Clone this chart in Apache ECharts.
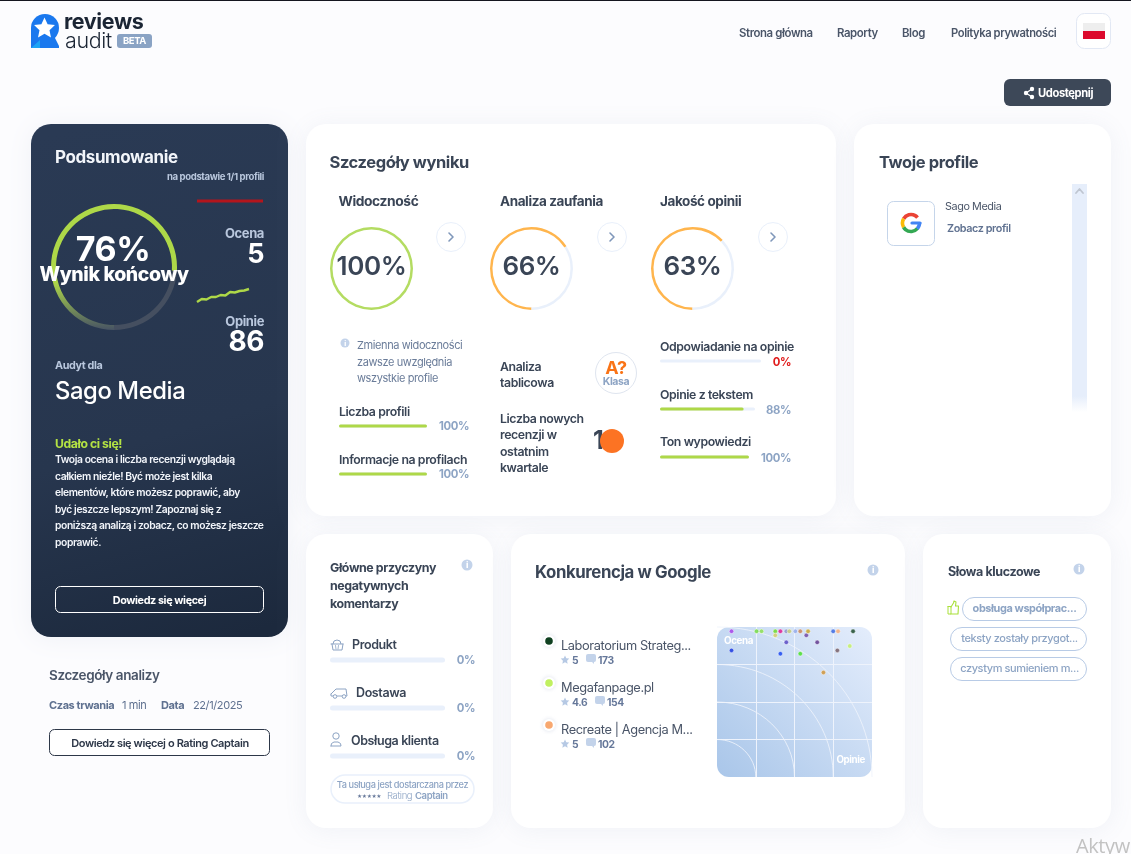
<!DOCTYPE html>
<html>
<head>
<meta charset="utf-8">
<title>Reviews Audit</title>
<script src="https://cdn.jsdelivr.net/npm/echarts@6/dist/echarts.min.js"></script>
<style>
html, body {margin: 0; padding: 0; overflow: hidden; background: #fcfcfe;}
#chart {width: 1131px; height: 854px;}
</style>
</head>
<body>
<div id="chart"></div>
<script>
// dane
var ringNames = ['Wynik końcowy', 'Widoczność', 'Analiza zaufania', 'Jakość opinii'];
var ringValues = [76, 100, 66, 63];

var progressNames = ['Liczba profili', 'Informacje na profilach', 'Odpowiadanie na opinie', 'Opinie z tekstem', 'Ton wypowiedzi', 'Produkt', 'Dostawa', 'Obsługa klienta'];
var progressValues = [100, 100, 0, 88, 100, 0, 0, 0];

var ratingTrend = [5, 5, 5, 5, 5, 5];
var opinionTrend = [60, 66, 65, 70, 70, 74, 73, 80, 79, 82, 83, 86];

var competitorNames = ['Laboratorium Strateg...', 'Megafanpage.pl', 'Recreate | Agencja M...'];
var competitorRatings = [5, 4.6, 5];
var competitorReviews = [173, 154, 102];

// [opinie, ocena]
var marketPoints = [
    [2.4, 5], [2.4, 4.48], [5.8, 5], [6.9, 5], [11.2, 5], [11.2, 4.89], [13.4, 5], [16.5, 5],
    [18.4, 5], [16.5, 4.7], [13.4, 4.39], [22.7, 5], [27, 5], [27, 4.39], [33.4, 4.89], [35.5, 5],
    [49, 4.7], [61, 3.88], [86, 5], [99.5, 4.48], [102, 5], [173, 5], [154, 4.6]
];
var quadrantLevels = [1, 2, 3, 4];
var keywords = ['obsługa współprac...', 'teksty zostały przygot...', 'czystym sumieniem m...'];

// wyglad
var FONT = 'Inter, "Noto Sans", sans-serif';
var DARK = '#3a4556';
var MUTED = '#8da4c4';
var SLATE = '#66789a';
var LIME = '#aed848';
var ORANGE = '#ffb54d';
var TRACK = '#e9f0fb';

var marketColors = ['#a53be8', '#1030e0', '#6bd83a', '#8ae04a', '#68d820', '#d0d060', '#e0108c', '#8a90c8',
    '#c0c870', '#5040c0', '#1040f0', '#90a8e8', '#c88050', '#40e020', '#6a40a0', '#c8a020',
    '#5a3088', '#d09030', '#3060e0', '#705860', '#f8a870', '#0f4020', '#c0f060'];
var competitorColors = ['#0f4020', '#c0f060', '#f8a870'];

var ringLayout = [
    {x: 114, y: 267, outer: 63, inner: 58},
    {x: 371.5, y: 268.5, outer: 41.5, inner: 39},
    {x: 531.5, y: 268.5, outer: 41.5, inner: 39},
    {x: 692.5, y: 268.5, outer: 41.5, inner: 39}
];
var progressLayout = [
    {x: 339, y: 426, w: 88, h: 3, color: LIME},
    {x: 339, y: 474, w: 88, h: 3, color: LIME},
    {x: 660, y: 361, w: 101, h: 3, color: LIME},
    {x: 660, y: 409, w: 95, h: 3, color: LIME},
    {x: 660, y: 457, w: 89, h: 3, color: LIME},
    {x: 330, y: 660, w: 115, h: 5, color: LIME},
    {x: 330, y: 708, w: 115, h: 5, color: LIME},
    {x: 330, y: 756, w: 115, h: 5, color: LIME}
];

var els = [];

function text(x, y, str, size, weight, color, align, family) {
    els.push({
        type: 'text', x: x, y: y + 3, z: 20, silent: true,
        style: {
            text: str, fill: color, textAlign: align || 'left', textVerticalAlign: 'middle',
            font: weight + ' ' + size + 'px ' + (family || FONT)
        }
    });
}

function box(x, y, w, h, r, style, z) {
    els.push({type: 'rect', z: z === undefined ? 1 : z, silent: true, shape: {x: x, y: y, width: w, height: h, r: r}, style: style});
}

function card(x, y, w, h, fill) {
    box(x, y, w, h, 20, {fill: fill || '#fff', shadowBlur: 24, shadowColor: 'rgba(110,130,170,0.09)', shadowOffsetY: 2}, 0);
}

function circle(cx, cy, r, style, z) {
    els.push({type: 'circle', z: z || 20, silent: true, shape: {cx: cx, cy: cy, r: r}, style: style});
}

function line(points, color, width, z) {
    els.push({type: 'polyline', z: z || 20, silent: true, shape: {points: points}, style: {stroke: color, fill: null, lineWidth: width, lineCap: 'round', lineJoin: 'round'}});
}

function arc(cx, cy, r, from, to, color, width) {
    els.push({
        type: 'arc', z: 20, silent: true,
        shape: {cx: cx, cy: cy, r: r, startAngle: from * Math.PI / 180, endAngle: to * Math.PI / 180},
        style: {stroke: color, fill: null, lineWidth: width}
    });
}

function star(cx, cy, r, fill, z) {
    var pts = [];
    for (var i = 0; i < 10; i++) {
        var rad = i % 2 ? r * 0.48 : r;
        var a = -Math.PI / 2 + i * Math.PI / 5;
        pts.push([cx + rad * Math.cos(a), cy + rad * Math.sin(a)]);
    }
    els.push({type: 'polygon', z: z || 20, silent: true, shape: {points: pts}, style: {fill: fill}});
}

function info(cx, cy, r) {
    circle(cx, cy, r, {fill: '#c3d3ea'});
    text(cx, cy - 2.5, 'i', r * 1.6, 800, '#fff', 'center');
}

function chevron(cx, cy) {
    circle(cx, cy, 14.5, {fill: '#fff', stroke: TRACK, lineWidth: 1});
    line([[cx - 2, cy - 4], [cx + 2, cy], [cx - 2, cy + 4]], '#7f97ba', 1.6);
}

function bubble(cx, cy) {
    box(cx - 5, cy - 5, 10, 8, 2, {fill: '#c3d3ea'}, 20);
    els.push({type: 'polygon', z: 20, silent: true, shape: {points: [[cx, cy + 2], [cx + 3, cy + 2], [cx + 3, cy + 5]]}, style: {fill: '#c3d3ea'}});
}

// naglowek
box(0, 0, 1131, 1, 0, {fill: '#14161f'}, 1);
box(31, 14, 28, 28, 14, {fill: '#1a78ee'});
box(31, 28, 14, 20, 0, {fill: '#1a78ee'});
els.push({type: 'polygon', z: 2, silent: true, shape: {points: [[46, 34], [53, 34], [59, 46], [59, 48], [50, 48], [40, 48], [40, 38]]}, style: {fill: '#1a78ee'}});
star(44.5, 28.5, 11, '#fff', 3);
els.push({type: 'polygon', z: 3, silent: true, shape: {points: [[40, 40], [40, 48], [31, 48]]}, style: {fill: '#1ea4f5'}});
text(64, 20, 'reviews', 21.5, 700, '#1b2534');
text(65, 39, 'audit', 21.5, 300, '#1b2534');
box(117, 34, 35, 14, 3, {fill: '#8aa3c4'}, 1);
text(134.5, 38.5, 'BETA', 9.5, 700, '#fff', 'center');
text(739, 31, 'Strona główna', 11.4, 600, '#4a5568');
text(837, 31, 'Raporty', 11.4, 600, '#4a5568');
text(902, 31, 'Blog', 11.4, 600, '#4a5568');
text(951, 31, 'Polityka prywatności', 11.2, 600, '#4a5568');
box(1076.5, 13.5, 34, 35, 8, {fill: '#fff', stroke: '#e2e8f4', lineWidth: 1}, 1);
box(1083, 23, 22, 8, 0, {fill: '#eeeeee'}, 2);
box(1083, 31, 22, 8, 0, {fill: '#dc0a2d'}, 2);

box(1004, 79, 107, 27, 6, {fill: '#3d4858'}, 1);
line([[1032, 89], [1026, 93], [1032, 97]], '#fff', 1.2);
circle(1032, 89, 2.2, {fill: '#fff'});
circle(1026, 93, 2.2, {fill: '#fff'});
circle(1032, 97, 2.2, {fill: '#fff'});
text(1038, 91, 'Udostępnij', 11.2, 700, '#fff');

// karty
card(31, 124, 257, 513, new echarts.graphic.LinearGradient(0.2, 0, 0.8, 1, [
    {offset: 0, color: '#2a3a54'}, {offset: 0.6, color: '#27364e'}, {offset: 1, color: '#1c293d'}
]));
card(306, 124, 530, 392);
card(854, 124, 257, 392);
card(306, 534, 187, 294);
card(511, 534, 394, 294);
card(923, 534, 188, 294);

// podsumowanie
text(55, 155, 'Podsumowanie', 17, 700, '#f2f5fa');
text(264, 174, 'na podstawie 1/1 profili', 9.6, 700, '#b9c7dd', 'right');
text(264, 231, 'Ocena', 13, 700, '#b9c7dd', 'right');
text(264, 252, String(competitorRatings[0]), 27, 700, '#fff', 'right');
text(264, 319, 'Opinie', 13, 700, '#b9c7dd', 'right');
text(264, 340, String(opinionTrend[opinionTrend.length - 1]), 28, 700, '#fff', 'right');
text(113, 248, ringValues[0] + '%', 34, 700, '#fff', 'center');
text(114, 272, ringNames[0], 19.5, 800, '#fff', 'center');
text(55, 363, 'Audyt dla', 10.8, 700, '#b9c7dd');
text(55, 389, 'Sago Media', 23.8, 500, '#fff');
text(55, 441, 'Udało ci się!', 12.2, 700, '#b4e344');
['Twoja ocena i liczba recenzji wyglądają', 'całkiem nieźle! Być może jest kilka',
    'elementów, które możesz poprawić, aby', 'być jeszcze lepszym! Zapoznaj się z',
    'poniższą analizą i zobacz, co możesz jeszcze', 'poprawić.'].forEach(function (s, i) {
    text(55, 457 + i * 16.5, s, 10.3, 600, '#f2f5fa');
});
box(55.5, 586.5, 208, 26, 5, {fill: 'transparent', stroke: '#fff', lineWidth: 1}, 1);
text(159.5, 598, 'Dowiedz się więcej', 10.8, 700, '#fff', 'center');

text(49, 673, 'Szczegóły analizy', 13.5, 600, '#4a5568');
text(49, 703, 'Czas trwania', 11, 700, '#5f7190');
text(122, 703, '1 min', 11, 400, '#5f7190');
text(161, 703, 'Data', 11, 700, '#5f7190');
text(193, 703, '22/1/2025', 11, 400, '#5f7190');
box(49.5, 729.5, 220, 26, 5, {fill: '#fff', stroke: '#2d3748', lineWidth: 1}, 1);
text(160, 741, 'Dowiedz się więcej o Rating Captain', 11, 600, '#2d3748', 'center');

// szczegoly wyniku
text(329.5, 160, 'Szczegóły wyniku', 16.5, 700, DARK);
text(338.5, 199, ringNames[1], 13.8, 700, DARK);
text(500, 199, ringNames[2], 13.5, 700, DARK);
text(660, 199, ringNames[3], 13.5, 700, DARK);
chevron(451, 237);
chevron(612, 237);
chevron(773, 237);
[1, 2, 3].forEach(function (i) {
    text(ringLayout[i].x, 264.5, ringValues[i] + '%', 26, 600, DARK, 'center');
});

info(345, 343, 4.5);
text(357, 343, 'Zmienna widoczności', 11, 400, '#6a7c99');
text(357, 360, 'zawsze uwzględnia', 11, 400, '#6a7c99');
text(357, 376, 'wszystkie profile', 11, 400, '#6a7c99');

text(339, 409, progressNames[0], 12.3, 600, DARK);
text(339, 457, progressNames[1], 12.3, 600, DARK);
text(660, 344, progressNames[2], 12.3, 600, DARK);
text(660, 392, progressNames[3], 12.3, 600, DARK);
text(660, 439, progressNames[4], 12.3, 600, DARK);
text(469, 424, progressValues[0] + '%', 11.3, 700, MUTED, 'right');
text(469, 472, progressValues[1] + '%', 11.3, 700, MUTED, 'right');
text(791, 360, progressValues[2] + '%', 11.3, 700, '#e01b1b', 'right');
text(791, 408, progressValues[3] + '%', 11.3, 700, MUTED, 'right');
text(791, 456, progressValues[4] + '%', 11.3, 700, MUTED, 'right');

text(500, 364, 'Analiza', 12.3, 600, DARK);
text(500, 380, 'tablicowa', 12.3, 600, DARK);
circle(616, 373, 20.5, {fill: '#fff', stroke: '#dfe5ef', lineWidth: 1}, 2);
text(616, 366, 'A?', 18, 700, '#f97316', 'center');
text(616, 379, 'Klasa', 10.5, 700, MUTED, 'center');
['Liczba nowych', 'recenzji w', 'ostatnim', 'kwartale'].forEach(function (s, i) {
    text(500, 416 + i * 16.5, s, 12.3, 600, DARK);
});
text(593, 438, '1', 25, 700, DARK);
circle(612, 441, 12, {fill: '#fc7323'}, 21);

// profile
text(879, 160, 'Twoje profile', 16.5, 700, DARK);
box(1072, 184, 15, 228, 0, {fill: new echarts.graphic.LinearGradient(0, 0, 0, 1, [
    {offset: 0, color: '#e6eefb'}, {offset: 0.93, color: '#e6eefb'}, {offset: 1, color: '#ffffff'}
])}, 1);
line([[1076, 193], [1079.5, 189], [1083, 193]], '#bfc6d1', 1.8);
box(887.5, 201.5, 47, 44, 6, {fill: '#fff', stroke: '#c5d5ea', lineWidth: 1}, 1);
arc(911, 223, 8.5, -150, -40, '#ea4335', 3.6);
arc(911, 223, 8.5, 150, 210, '#fbbc05', 3.6);
arc(911, 223, 8.5, 40, 150, '#34a853', 3.6);
arc(911, 223, 8.5, -5, 42, '#4285f4', 3.6);
line([[912, 223], [920, 223]], '#4285f4', 3.2);
text(945, 204, 'Sago Media', 10.8, 400, '#4a5568');
text(947, 226, 'Zobacz profil', 10.8, 600, '#5f7190');

// glowne przyczyny
text(330, 565, 'Główne przyczyny', 12.4, 700, DARK);
text(330, 583, 'negatywnych', 12.4, 700, DARK);
text(330, 601, 'komentarzy', 12.4, 700, DARK);
info(467, 565, 5.5);
text(352, 642, progressNames[5], 12.5, 600, DARK);
text(356, 690, progressNames[6], 12.5, 600, DARK);
text(351, 738, progressNames[7], 12.5, 600, DARK);
text(475, 658, progressValues[5] + '%', 11.3, 700, MUTED, 'right');
text(475, 706, progressValues[6] + '%', 11.3, 700, MUTED, 'right');
text(475, 754, progressValues[7] + '%', 11.3, 700, MUTED, 'right');
// ikony
line([[331, 644], [343, 644]], MUTED, 1);
line([[332, 644], [333, 650], [342, 650], [343, 644]], MUTED, 1);
arc(337, 644, 4, 180, 360, MUTED, 1);
line([[335.5, 645.5], [336, 649]], MUTED, 0.8);
line([[338.5, 645.5], [338, 649]], MUTED, 0.8);
line([[331, 694], [336, 689], [346, 689], [347, 696], [331, 696], [331, 694]], MUTED, 1);
circle(335, 696.5, 1.8, {fill: '#fff', stroke: MUTED, lineWidth: 1});
circle(344, 696.5, 1.8, {fill: '#fff', stroke: MUTED, lineWidth: 1});
circle(336, 736, 3.2, {fill: '#fff', stroke: MUTED, lineWidth: 1});
line([[331, 746], [331.5, 743.5], [334, 742], [338, 742], [340.5, 743.5], [341, 746], [331, 746]], MUTED, 1);

box(331, 775, 143, 28, 14, {fill: '#fff', stroke: TRACK, lineWidth: 1.5}, 1);
text(402.5, 782, 'Ta usługa jest dostarczana przez', 9.2, 500, MUTED, 'center');
text(357, 793, '★★★★★', 5, 400, SLATE);
text(387, 793, 'Rating', 9.5, 300, MUTED);
text(415, 793, 'Captain', 9.5, 600, MUTED);

// konkurencja
text(535, 570, 'Konkurencja w Google', 16.8, 700, DARK);
info(873, 570, 5.5);
competitorNames.forEach(function (name, i) {
    var y = 645 + i * 42;
    circle(549, y - 4, 6, {fill: '#fff', shadowBlur: 4, shadowColor: 'rgba(110,130,170,0.25)'});
    circle(549, y - 4, 3.8, {fill: competitorColors[i]});
    text(561, y - 2, name, 12.8, 400, '#4a5568');
    star(565, y + 15, 4.5, '#b6c9e4');
    var rating = String(competitorRatings[i]);
    text(572, y + 13, rating, 10.3, 700, SLATE);
    var bx = i === 1 ? 600 : 591;
    bubble(bx, y + 14);
    text(bx + 7, y + 13, String(competitorReviews[i]), 10.3, 700, SLATE);
});
box(717, 627, 155, 150, 12, {fill: new echarts.graphic.LinearGradient(0, 1, 1, 0, [
    {offset: 0, color: '#a9c6e9'}, {offset: 1, color: '#e4edfc'}
])}, 0);
text(724, 638.5, 'Ocena', 9.8, 700, '#fff');
text(865, 757.5, 'Opinie', 9.8, 700, '#fff', 'right');

// slowa kluczowe
text(948, 569, 'Słowa kluczowe', 12.5, 700, DARK);
info(1079, 569, 5.5);
line([[948, 606.5], [951, 606.5], [951, 614], [948, 614], [948, 606.5]], '#a9e03a', 1);
line([[951, 607], [953.5, 603], [954, 601], [956, 602], [955.5, 606], [958.5, 606], [958, 614], [951, 614]], '#a9e03a', 1.1);
box(962.5, 597.5, 124, 23, 11.5, {fill: '#fff', stroke: '#b8cbe6', lineWidth: 1}, 1);
box(950.5, 627.5, 136, 23, 11.5, {fill: '#fff', stroke: '#b8cbe6', lineWidth: 1}, 1);
box(950.5, 657.5, 136, 23, 11.5, {fill: '#fff', stroke: '#b8cbe6', lineWidth: 1}, 1);
text(1024.5, 606, keywords[0], 10.9, 700, MUTED, 'center');
text(1019.5, 636, keywords[1], 11, 500, MUTED, 'center');
text(1019.5, 666, keywords[2], 11, 500, MUTED, 'center');

text(1076, 844, 'Aktyw', 20, 400, '#c2c2c2', 'left', '"Open Sans", sans-serif');

// siatki i osie
var grids = [], xAxes = [], yAxes = [], series = [];

function hiddenAxis(opt) {
    opt.show = false;
    return opt;
}

// paski postepu
progressValues.forEach(function (value, i) {
    var p = progressLayout[i];
    var idx = grids.length;
    grids.push({left: p.x, top: p.y - 5, width: p.w, height: 10});
    xAxes.push(hiddenAxis({type: 'value', gridIndex: idx, min: 0, max: 100}));
    yAxes.push(hiddenAxis({type: 'category', gridIndex: idx, data: [progressNames[i]]}));
    series.push({
        type: 'bar', name: progressNames[i], xAxisIndex: xAxes.length - 1, yAxisIndex: yAxes.length - 1,
        data: [value], barWidth: p.h, silent: true,
        showBackground: true, backgroundStyle: {color: TRACK, borderRadius: p.h / 2},
        itemStyle: {color: p.color, borderRadius: p.h / 2}
    });
});

// male wykresy przy ocenie i opiniach
function spark(values, left, top, width, height, min, max, color, lineWidth) {
    var idx = grids.length;
    grids.push({left: left, top: top, width: width, height: height});
    xAxes.push(hiddenAxis({type: 'category', gridIndex: idx, boundaryGap: false, data: values.map(function (v, i) { return i; })}));
    yAxes.push(hiddenAxis({type: 'value', gridIndex: idx, min: min, max: max}));
    series.push({
        type: 'line', xAxisIndex: xAxes.length - 1, yAxisIndex: yAxes.length - 1, data: values,
        showSymbol: false, silent: true, z: 5, clip: false,
        lineStyle: {color: color, width: lineWidth}
    });
}
spark(ratingTrend, 197, 196, 66, 10, 0, 10, '#b3151c', 3);
spark(opinionTrend, 197, 289, 52, 13, 60, 86, LIME, 2.4);

// wykres konkurencji
var mapGrid = grids.length;
grids.push({left: 717, top: 627, width: 155, height: 150});
var xMain = xAxes.length, yMain = yAxes.length;
xAxes.push(hiddenAxis({type: 'log', gridIndex: mapGrid, min: 1.44, max: 337}));
yAxes.push(hiddenAxis({type: 'value', gridIndex: mapGrid, min: 1.04, max: 5.117}));
var quadrantAxis = {
    type: 'value', gridIndex: mapGrid, min: 0, max: 4, interval: 1, show: true, z: 3,
    axisLine: {show: false}, axisTick: {show: false}, axisLabel: {show: false},
    splitLine: {show: true, showMinLine: false, showMaxLine: false, lineStyle: {color: '#eef3fc', width: 1}}
};
var xQuad = xAxes.length, yQuad = yAxes.length;
xAxes.push(Object.assign({position: 'top'}, quadrantAxis));
yAxes.push(Object.assign({position: 'right'}, quadrantAxis));

series.push({
    type: 'custom', coordinateSystem: 'cartesian2d', xAxisIndex: xQuad, yAxisIndex: yQuad, silent: true, z: 3,
    data: quadrantLevels.map(function (v) { return [v, v]; }),
    renderItem: function (params, api) {
        var level = api.value(0);
        var o = api.coord([0, 0]);
        var s = api.size([level, level]);
        var k = 0.5523;
        return {
            type: 'bezierCurve',
            shape: {
                x1: o[0], y1: o[1] - s[1], x2: o[0] + s[0], y2: o[1],
                cpx1: o[0] + k * s[0], cpy1: o[1] - s[1],
                cpx2: o[0] + s[0], cpy2: o[1] - k * s[1]
            },
            style: {stroke: '#eef3fc', fill: null, lineWidth: 1, opacity: 0.85}
        };
    }
});
series.push({
    type: 'scatter', xAxisIndex: xMain, yAxisIndex: yMain, symbol: 'circle', symbolSize: 4.5, silent: true, z: 6,
    data: marketPoints.map(function (p, i) {
        return {value: p, itemStyle: {color: marketColors[i]}};
    }),
    itemStyle: {borderColor: 'rgba(255,255,255,0.55)', borderWidth: 1}
});

// pierscienie
ringValues.forEach(function (value, i) {
    var r = ringLayout[i];
    var main = i === 0 ? new echarts.graphic.LinearGradient(0, 0, 0, 1, [
        {offset: 0, color: LIME}, {offset: 0.62, color: LIME}, {offset: 1, color: '#475364'}
    ]) : (value === 100 ? '#b4dc62' : ORANGE);
    series.push({
        type: 'pie', name: ringNames[i], center: [r.x, r.y], radius: [r.inner, r.outer],
        startAngle: 270, clockwise: true, silent: true, z: 5,
        label: {show: false}, labelLine: {show: false},
        data: [
            {value: value, itemStyle: {color: main}},
            {value: 100 - value, itemStyle: {color: i === 0 ? '#454f60' : TRACK}}
        ]
    });
});

var chart = echarts.init(document.getElementById('chart'), null, {renderer: 'canvas', width: 1131, height: 854});
// oryginalny font ma ciasniejsze litery
chart.getZr().painter.getLayer(0).ctx.letterSpacing = '-0.4px';
chart.setOption({
    animation: false,
    backgroundColor: '#fcfcfe',
    tooltip: {show: false},
    grid: grids,
    xAxis: xAxes,
    yAxis: yAxes,
    series: series,
    graphic: {elements: els}
});
</script>
</body>
</html>
